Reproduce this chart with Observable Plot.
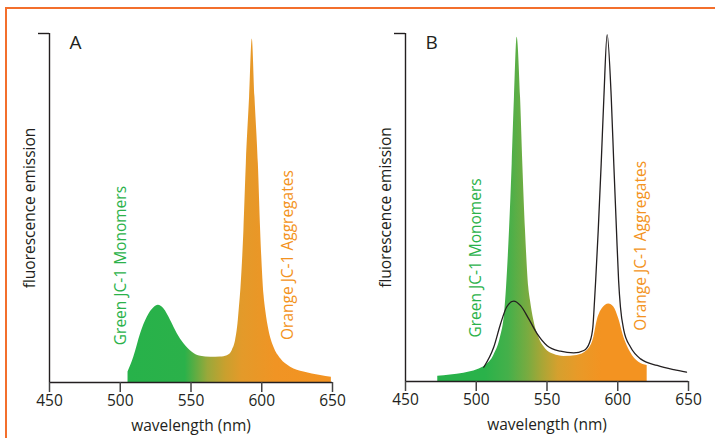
<!DOCTYPE html>
<html>
<head>
<meta charset="utf-8">
<script src="https://cdn.jsdelivr.net/npm/d3@7"></script>
<script src="https://cdn.jsdelivr.net/npm/@observablehq/plot@0.6"></script>
<style>
  html, body { margin: 0; padding: 0; background: #fff; }
  #fig { position: relative; width: 715px; height: 438px; overflow: hidden; font-family: "Open Sans", sans-serif; }
  #border { position: absolute; left: 5px; top: 7px; width: 720px; height: 440px; border-left: 2px solid #f36f2c; border-top: 2px solid #f36f2c; }
  .panel { position: absolute; top: 0; }
</style>
</head>
<body>
<div id="fig"><div id="border"></div><div id="pa" class="panel" style="left:0px"></div><div id="pb" class="panel" style="left:356px"></div></div>
<script>
// Panel A: JC-1 emission (fill)
const waveA = [505.5, 509.6, 514.4, 519.1, 523.8, 526.9, 530.8, 535.6, 540.3, 545, 550.9, 556.8, 563.9, 570.9, 575.7, 579.2, 581.5, 583.2, 584.2, 585.3, 587.4, 589.1, 591.4, 593.3, 595.2, 597.6, 599.2, 601.6, 602.8, 605.1, 608.6, 613.4, 620.4, 629.8, 641.6, 649.2];
const emisA = [3.0, 7.3, 14, 18.7, 21.4, 22.1, 21.1, 17.8, 14, 11.1, 8.7, 7.5, 7.2, 7.3, 7.7, 9.2, 12, 16.8, 21.5, 27, 43.6, 62.7, 81.7, 98.4, 81.7, 62.7, 43.6, 25, 20.6, 14.9, 10.1, 6.8, 4.4, 3.0, 2.0, 1.5];

// Panel B: JC-1 emission (fill)
const waveB = [472.8, 481.8, 491.2, 500.7, 506.5, 512.4, 517.1, 520, 521.4, 523.5, 525.4, 527, 528.9, 531.3, 532.9, 534.8, 537.1, 538.3, 540.7, 544.2, 548.9, 554.8, 561.9, 571.3, 578.4, 583.1, 585.5, 589, 593.7, 597.2, 600.7, 604.3, 609, 614.9, 620.8];
const emisB = [1.5, 1.9, 2.4, 3.4, 4.6, 7.5, 12.7, 19.5, 27, 43.4, 62.6, 81.7, 98.9, 81.7, 62.6, 43.4, 27, 23.3, 17.5, 12.7, 9.4, 7.8, 7.2, 7.5, 8.9, 12.7, 17.5, 20.9, 22.3, 21.4, 18, 12.7, 8.4, 5.5, 4.6];

// Panel B: reference outline (black line)
const waveL = [505.3, 512.4, 517.2, 521.5, 526.5, 531.3, 537.1, 543.1, 550.1, 559.5, 568.9, 576, 580.2, 582.4, 583.6, 584.4, 586.2, 588.3, 590.2, 592.5, 595.4, 597.2, 599.1, 600.6, 601.9, 604.3, 609, 616.1, 627.9, 639.6, 648.6];
const emisL = [4.1, 9.9, 16.6, 21.4, 23.1, 21.8, 18, 13.7, 10.3, 8.7, 8.2, 8.9, 11.3, 15.6, 23.3, 29, 43.4, 62.6, 81.7, 99.7, 81.7, 62.6, 43.4, 29, 21.4, 14.7, 9.9, 6.5, 4.6, 3.4, 2.7];

// Gradient stops (wavelength, colour)
const stopWaveA = [505, 546, 562, 574.5, 586, 610, 650];
const stopColA = ["#27b24a", "#2bb14a", "#9aa83a", "#c9a02e", "#e39a2a", "#f09424", "#f39321"];
const stopWaveB = [472, 506.5, 523, 537, 546.6, 558, 572, 589, 622];
const stopColB = ["#27b24a", "#2ab24a", "#45b04a", "#7aab40", "#a8a636", "#d5a02e", "#e89a28", "#f39321", "#f39321"];

const xTicks = [450, 500, 550, 600, 650];
const panelLetters = ["A", "B"];
const labelGreen = "Green JC-1 Monomers";
const labelOrange = "Orange JC-1 Aggregates";
const xLabel = "wavelength (nm)";
const yLabel = "fluorescence emission";

const ink = "#231f20";
const green = "#2bb24a";
const orange = "#f39321";
const FONT = "Open Sans, sans-serif";

function zip(ws, vs) { return ws.map((w, i) => ({w, v: vs[i]})); }

function gradientMark(id, waves, cols) {
  return (index, scales) => {
    const defs = d3.create("svg:defs");
    const x0 = scales.x(waves[0]), x1 = scales.x(waves[waves.length - 1]);
    const g = defs.append("linearGradient").attr("id", id)
      .attr("gradientUnits", "userSpaceOnUse")
      .attr("x1", x0).attr("x2", x1).attr("y1", 0).attr("y2", 0);
    waves.forEach((w, i) => {
      g.append("stop").attr("offset", (w - waves[0]) / (waves[waves.length - 1] - waves[0])).attr("stop-color", cols[i]);
    });
    return defs.node();
  };
}

function panel(opts) {
  const marks = [
    gradientMark(opts.gid, opts.stopW, opts.stopC),
    Plot.areaY(opts.fill, {x: "w", y: "v", fill: `url(#${opts.gid})`, curve: "monotone-x"}),
  ];
  if (opts.line) marks.push(Plot.lineY(opts.line, {x: "w", y: "v", stroke: ink, strokeWidth: 1.3, curve: "monotone-x"}));
  marks.push(
    Plot.ruleX([450], {y1: 0, y2: 100, stroke: ink, strokeWidth: 1.4}),
    Plot.axisY({ticks: [100], tickSize: 11, tickFormat: () => "", stroke: ink, strokeWidth: 1.4, label: null}),
    Plot.ruleY([0], {stroke: ink, strokeWidth: 1.6}),
    Plot.axisX({ticks: xTicks, tickSize: 10, tickPadding: 2, fontSize: 15.5, tickFormat: d => String(d), stroke: "#444", strokeWidth: 1.5, fill: ink, label: null}),
    Plot.text([xLabel], {frameAnchor: "bottom", dy: 44, fontSize: 15.5, fill: ink, lineAnchor: "middle", textAnchor: "middle"}),
    Plot.text([yLabel], {frameAnchor: "left", dx: -19, rotate: -90, fontSize: 15.5, fill: ink, lineAnchor: "middle", textAnchor: "middle"}),
    Plot.text([opts.letter], {x: 468.4, y: 97.2, fontSize: 19, fill: ink, lineAnchor: "middle"}),
    Plot.text([labelGreen], {x: opts.gx, y: opts.gy, rotate: -90, fontSize: 15.5, fill: green, lineAnchor: "middle"}),
    Plot.text([labelOrange], {x: opts.ox, y: opts.oy, rotate: -90, fontSize: 15.5, fill: orange, lineAnchor: "middle"})
  );
  return Plot.plot({
    width: 357, height: 438,
    marginLeft: 49, marginRight: 25, marginTop: 33, marginBottom: opts.mb,
    x: {domain: [450, 650]},
    y: {domain: [0, 100]},
    style: {fontFamily: FONT, color: ink, background: "transparent", overflow: "visible"},
    marks
  });
}

document.getElementById("pa").append(panel({
  gid: "gradA", stopW: stopWaveA, stopC: stopColA, fill: zip(waveA, emisA), line: null,
  letter: panelLetters[0], mb: 56,
  gx: 500.3, gy: 33.5, ox: 618.3, oy: 36.5
}));
document.getElementById("pb").append(panel({
  gid: "gradB", stopW: stopWaveB, stopC: stopColB, fill: zip(waveB, emisB), line: zip(waveL, emisL),
  letter: panelLetters[1], mb: 57,
  gx: 499.5, gy: 35.5, ox: 616.8, oy: 39
}));
</script>
</body>
</html>
